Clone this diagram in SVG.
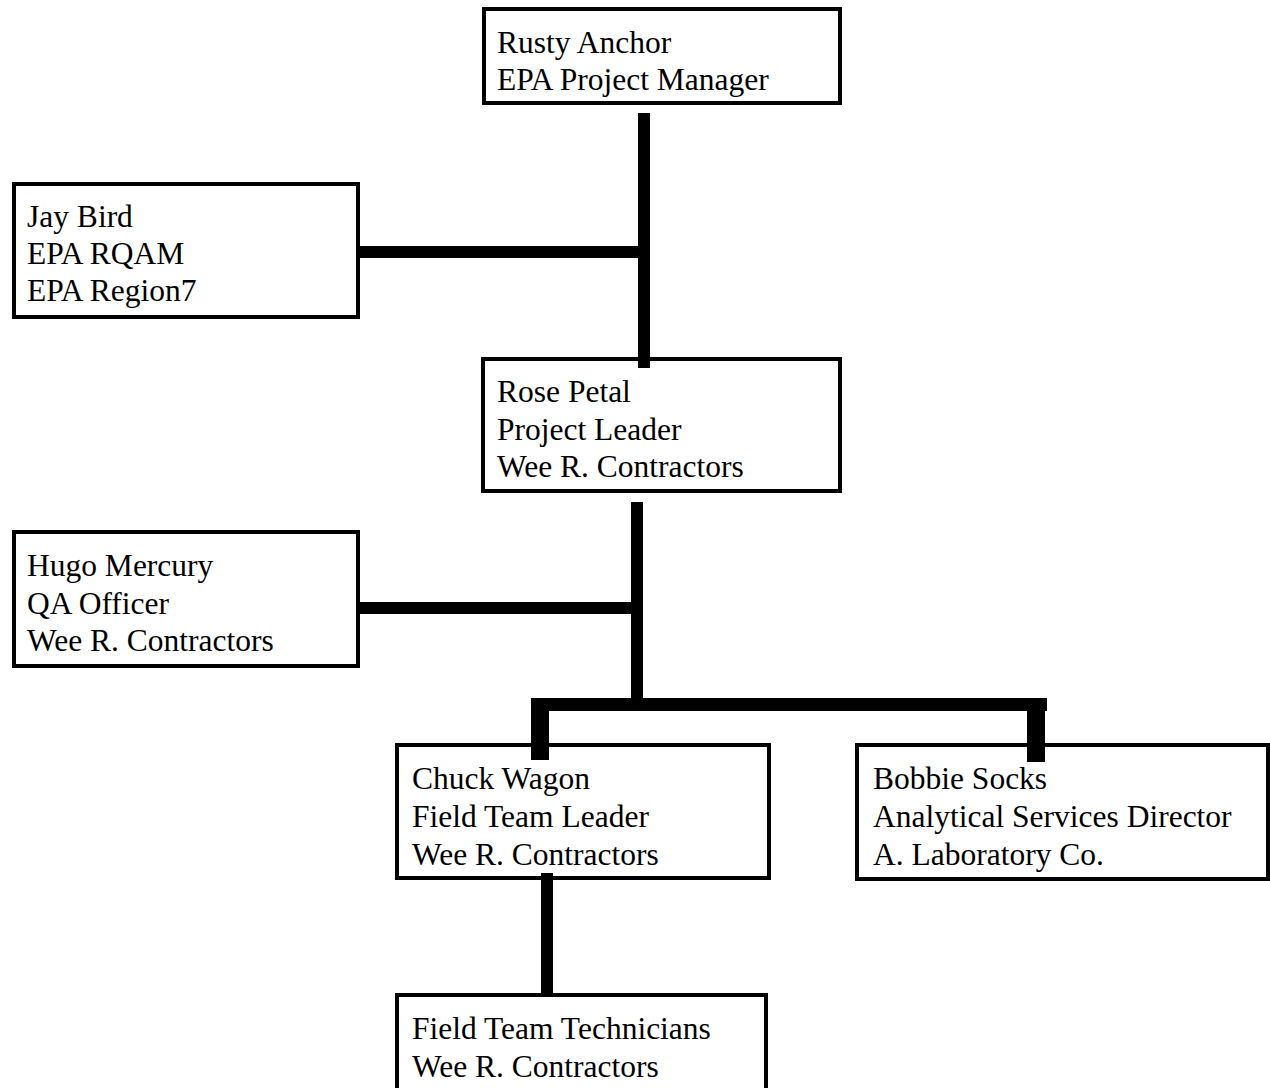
<svg xmlns="http://www.w3.org/2000/svg" width="1270" height="1088" viewBox="0 0 1270 1088">
<style>
  .box { fill: #fff; stroke: #000; stroke-width: 4; }
  .t { font-family: "Liberation Serif", "Times New Roman", serif; font-size: 31.5px; fill: #000; }
  .c { fill: #000; }
</style>
<rect x="0" y="0" width="1270" height="1088" fill="#fff"/>
<g id="nodes">
  <g id="rusty">
    <rect class="box" x="484" y="9" width="356" height="94"/>
    <text class="t" x="497" y="53">Rusty Anchor</text>
    <text class="t" x="497" y="90">EPA Project Manager</text>
  </g>
  <g id="jay">
    <rect class="box" x="14" y="184" width="344" height="133"/>
    <text class="t" x="27" y="227">Jay Bird</text>
    <text class="t" x="27" y="264">EPA RQAM</text>
    <text class="t" x="27" y="301">EPA Region7</text>
  </g>
  <g id="rose">
    <rect class="box" x="483" y="359" width="357" height="132"/>
    <text class="t" x="497" y="402">Rose Petal</text>
    <text class="t" x="497" y="440">Project Leader</text>
    <text class="t" x="497" y="477">Wee R. Contractors</text>
  </g>
  <g id="hugo">
    <rect class="box" x="14" y="532" width="344" height="134"/>
    <text class="t" x="27" y="576">Hugo Mercury</text>
    <text class="t" x="27" y="614">QA Officer</text>
    <text class="t" x="27" y="651">Wee R. Contractors</text>
  </g>
  <g id="chuck">
    <rect class="box" x="397" y="745" width="372" height="133"/>
    <text class="t" x="412" y="789">Chuck Wagon</text>
    <text class="t" x="412" y="827">Field Team Leader</text>
    <text class="t" x="412" y="865">Wee R. Contractors</text>
  </g>
  <g id="bobbie">
    <rect class="box" x="857" y="745" width="411" height="134"/>
    <text class="t" x="873" y="789">Bobbie Socks</text>
    <text class="t" x="873" y="827">Analytical Services Director</text>
    <text class="t" x="873" y="865">A. Laboratory Co.</text>
  </g>
  <g id="technicians">
    <rect class="box" x="397" y="995" width="369" height="130"/>
    <text class="t" x="412" y="1039">Field Team Technicians</text>
    <text class="t" x="412" y="1077">Wee R. Contractors</text>
  </g>
</g>
<g id="connectors">
  <rect class="c" x="638" y="113" width="12" height="255"/>
  <rect class="c" x="358" y="246" width="282" height="12"/>
  <rect class="c" x="631" y="502" width="12" height="197"/>
  <rect class="c" x="358" y="602" width="274" height="12"/>
  <rect class="c" x="532" y="698" width="515" height="13"/>
  <rect class="c" x="531" y="698" width="18" height="62"/>
  <rect class="c" x="1027" y="698" width="18" height="64"/>
  <rect class="c" x="541" y="873" width="12" height="122"/>
</g>
</svg>
